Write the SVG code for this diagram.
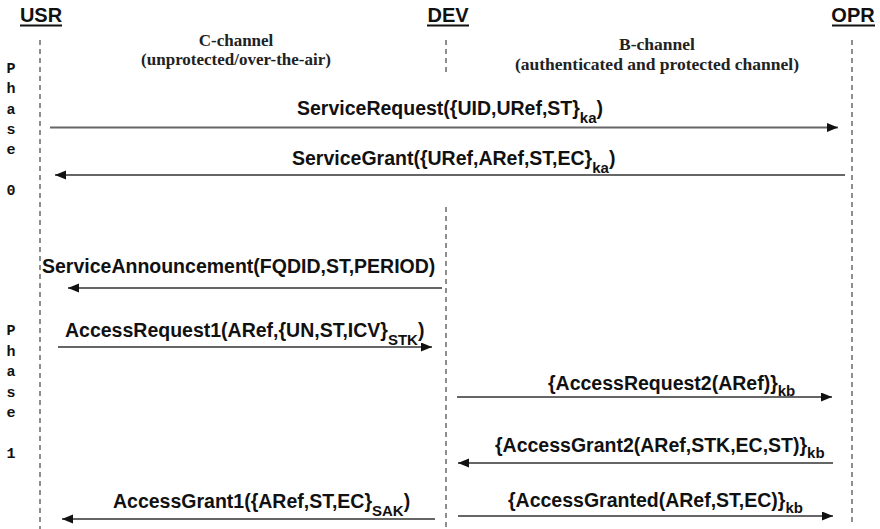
<svg xmlns="http://www.w3.org/2000/svg" width="880" height="529" viewBox="0 0 880 529">
<style>
.hdr{font-family:"Liberation Sans",Arial,sans-serif;font-weight:bold;font-size:20px;fill:#111;text-anchor:middle}
.ul{stroke:#111;stroke-width:2}
.life{stroke:#444;stroke-width:1.2;stroke-dasharray:5,4;fill:none}
.chan{font-family:"Liberation Serif","Times New Roman",serif;font-weight:bold;font-size:17px;fill:#222;text-anchor:middle}
.phase{font-family:"Liberation Mono","Courier New",monospace;font-weight:bold;font-size:15px;fill:#111;text-anchor:middle}
.msg{font-family:"Liberation Sans",Arial,sans-serif;font-weight:bold;font-size:19.5px;fill:#111}
.sub{font-size:15px}
.a0{stroke:#666;stroke-width:1.8;fill:none}
.a1{stroke:#333;stroke-width:1.3;fill:none}
</style>
<defs>
<marker id="ah" markerUnits="userSpaceOnUse" markerWidth="12" markerHeight="10" refX="11" refY="4.5" orient="auto">
<path d="M0,0 L11,4.5 L0,9 z" fill="#111"/>
</marker>
</defs>
<g id="USR">
<text class="hdr" x="41" y="22">USR</text>
<line class="ul" x1="20" y1="25.5" x2="62" y2="25.5"/>
<line class="life" x1="40" y1="40" x2="40" y2="529"/>
</g>
<g id="DEV">
<text class="hdr" x="448" y="22">DEV</text>
<line class="ul" x1="427" y1="25.5" x2="469" y2="25.5"/>
<line class="life" x1="446" y1="40" x2="446" y2="73"/>
<line class="life" x1="446" y1="207" x2="446" y2="529"/>
</g>
<g id="OPR">
<text class="hdr" x="853" y="22">OPR</text>
<line class="ul" x1="832" y1="25.5" x2="875" y2="25.5"/>
<line class="life" x1="852" y1="40" x2="852" y2="522"/>
</g>
<g id="c-channel">
<text class="chan" x="236" y="46">C-channel</text>
<text class="chan" x="236" y="65">(unprotected/over-the-air)</text>
</g>
<g id="b-channel">
<text class="chan" x="657" y="50" style="font-size:17.5px">B-channel</text>
<text class="chan" x="657" y="70" style="font-size:17.5px">(authenticated and protected channel)</text>
</g>
<g id="phase0">
<text class="phase" x="11" y="73">P</text>
<text class="phase" x="11" y="93.3">h</text>
<text class="phase" x="11" y="113.6">a</text>
<text class="phase" x="11" y="134">s</text>
<text class="phase" x="11" y="154">e</text>
<text class="phase" x="11" y="195">0</text>
</g>
<g id="phase1">
<text class="phase" x="11" y="335">P</text>
<text class="phase" x="11" y="355.5">h</text>
<text class="phase" x="11" y="376">a</text>
<text class="phase" x="11" y="396.5">s</text>
<text class="phase" x="11" y="417">e</text>
<text class="phase" x="11" y="458">1</text>
</g>
<g id="connectors">
<line class="a0" x1="50" y1="127.5" x2="838" y2="127.5" marker-end="url(#ah)"/>
<line class="a0" x1="845" y1="175" x2="55" y2="175" marker-end="url(#ah)"/>
<line class="a1" x1="442" y1="288" x2="68" y2="288" marker-end="url(#ah)"/>
<line class="a1" x1="58" y1="347" x2="432" y2="347" marker-end="url(#ah)"/>
<line class="a1" x1="457" y1="397" x2="832" y2="397" marker-end="url(#ah)"/>
<line class="a1" x1="833" y1="463" x2="458" y2="463" marker-end="url(#ah)"/>
<line class="a1" x1="458" y1="516" x2="833" y2="516" marker-end="url(#ah)"/>
<line class="a1" x1="435" y1="519" x2="62" y2="519" marker-end="url(#ah)"/>
</g>
<g id="labels">
<text class="msg" x="297" y="115">ServiceRequest({UID,URef,ST}<tspan class="sub" dy="8">ka</tspan><tspan dy="-8">)</tspan></text>
<text class="msg" x="292" y="165">ServiceGrant({URef,ARef,ST,EC}<tspan class="sub" dy="8">ka</tspan><tspan dy="-8">)</tspan></text>
<text class="msg" x="42" y="273">ServiceAnnouncement(FQDID,ST,PERIOD)</text>
<text class="msg" x="65" y="337">AccessRequest1(ARef,{UN,ST,ICV}<tspan class="sub" dy="8">STK</tspan><tspan dy="-8">)</tspan></text>
<text class="msg" x="548" y="390">{AccessRequest2(ARef)}<tspan class="sub" dy="6">kb</tspan></text>
<text class="msg" x="495" y="452">{AccessGrant2(ARef,STK,EC,ST)}<tspan class="sub" dy="6">kb</tspan></text>
<text class="msg" x="508" y="507">{AccessGranted(ARef,ST,EC)}<tspan class="sub" dy="6">kb</tspan></text>
<text class="msg" x="113" y="508">AccessGrant1({ARef,ST,EC}<tspan class="sub" dy="8">SAK</tspan><tspan dy="-8">)</tspan></text>
</g>
</svg>
